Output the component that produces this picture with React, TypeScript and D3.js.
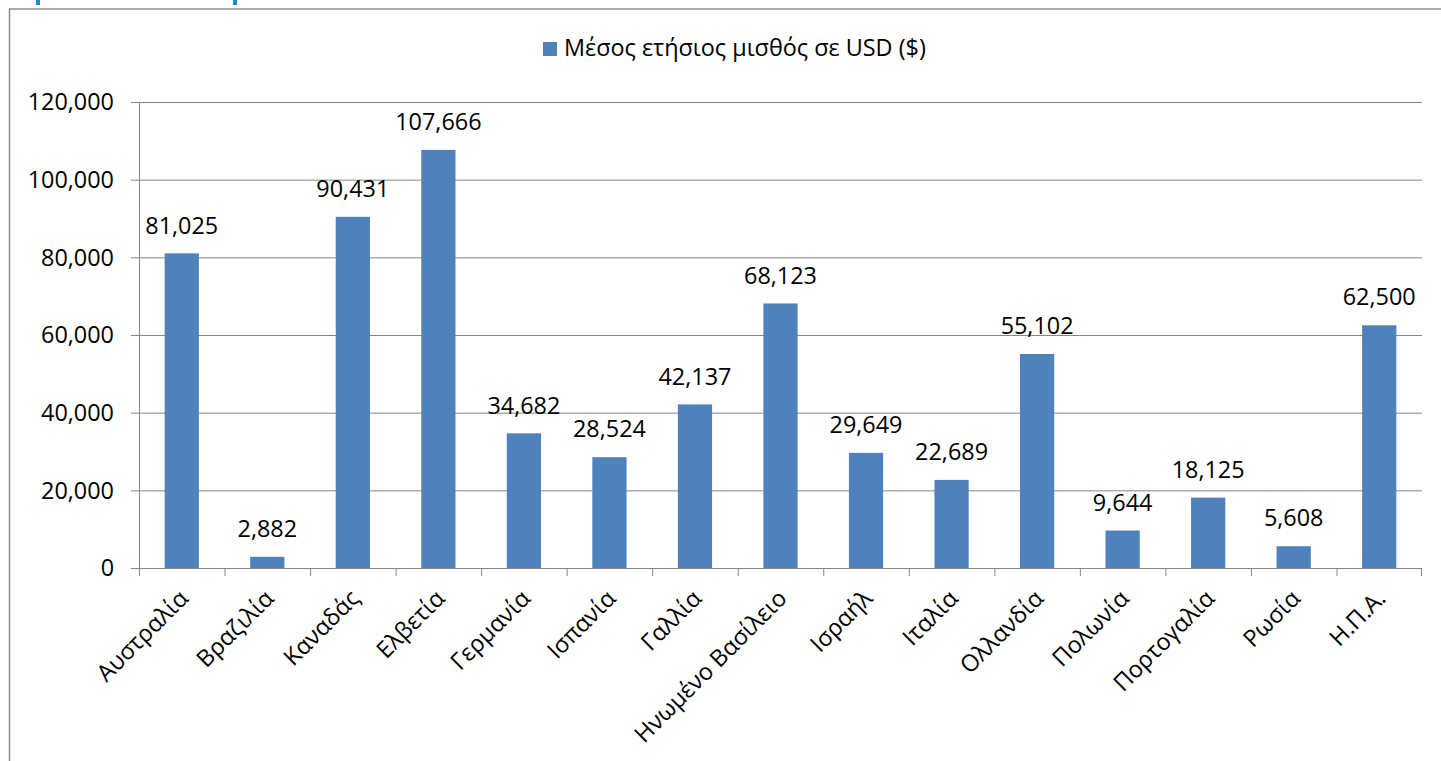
import React from "react";
import * as d3 from "d3";

const categories = [
  "Αυστραλία", "Βραζιλία", "Καναδάς", "Ελβετία", "Γερμανία", "Ισπανία", "Γαλλία",
  "Ηνωμένο Βασίλειο", "Ισραήλ", "Ιταλία", "Ολλανδία", "Πολωνία", "Πορτογαλία", "Ρωσία", "Η.Π.Α.",
];
const values = [81025, 2882, 90431, 107666, 34682, 28524, 42137, 68123, 29649, 22689, 55102, 9644, 18125, 5608, 62500];
const yTicks = [0, 20000, 40000, 60000, 80000, 100000, 120000];
const seriesName = "Μέσος ετήσιος μισθός σε USD ($)";

const W = 1441, H = 761;
const left = 139, right = 1422, top = 102, bottom = 568;
const FONT = "'Open Sans', 'Noto Sans', sans-serif";
const FS = 23.4;
const BAR = "#4F81BD";
const GRID = "#868686";

export default function App() {
  const x = d3.scaleBand<string>().domain(categories).range([left, right]).paddingInner(0.6).paddingOuter(0.3);
  const band = d3.scaleBand<string>().domain(categories).range([left, right]);
  const y = d3.scaleLinear().domain([0, 120000]).range([bottom, top]);
  const fmt = d3.format(",");
  return (
    <svg width={W} height={H} style={{ position: "absolute", left: 0, top: 0, background: "#fff" }} fontFamily={FONT}>
      <rect x={0} y={0} width={W} height={H} fill="#fff" />
      <rect x={36} y={0} width={4} height={5} fill="#1B8CC0" />
      <rect x={233} y={0} width={4} height={5} fill="#1B8CC0" />
      <line x1={9.5} y1={9} x2={9.5} y2={H} stroke="#8c8c8c" strokeWidth={1.5} />
      <line x1={9} y1={9} x2={W} y2={9} stroke="#8c8c8c" strokeWidth={1.5} />
      {/* legend */}
      <rect x={543} y={42} width={14} height={14} fill={BAR} />
      <text x={564} y={48} dy="0.35em" fontSize={FS} fill="#000">{seriesName}</text>
      {/* gridlines */}
      {yTicks.map((t) => (
        <g key={t}>
          {t > 0 && <line x1={left} x2={right} y1={y(t) + 0.5} y2={y(t) + 0.5} stroke={GRID} strokeWidth={1} />}
          <line x1={131} x2={left} y1={y(t) + 0.5} y2={y(t) + 0.5} stroke={GRID} strokeWidth={1} />
          <text x={114} y={y(t)} dy="0.35em" textAnchor="end" fontSize={FS} fill="#000">{fmt(t)}</text>
        </g>
      ))}
      {/* bars */}
      {categories.map((c, i) => (
        <rect key={c} x={x(c)!} y={y(values[i])} width={x.bandwidth()} height={bottom - y(values[i])} fill={BAR} />
      ))}
      {/* axes */}
      <line x1={left + 0.5} x2={left + 0.5} y1={top} y2={bottom} stroke={GRID} />
      <line x1={left} x2={right} y1={bottom + 0.5} y2={bottom + 0.5} stroke={GRID} />
      {categories.map((c) => (
        <line key={"t" + c} x1={band(c)! + 0.5} x2={band(c)! + 0.5} y1={bottom} y2={bottom + 8} stroke={GRID} />
      ))}
      <line x1={right - 0.5} x2={right - 0.5} y1={bottom} y2={bottom + 8} stroke={GRID} />
      {/* data labels */}
      {categories.map((c, i) => (
        <text key={"l" + c} x={x(c)! + x.bandwidth() / 2} y={y(values[i]) - 28} dy="0.35em" textAnchor="middle" fontSize={FS} fill="#000">
          {fmt(values[i])}
        </text>
      ))}
      {/* category labels */}
      {categories.map((c) => {
        const cx = band(c)! + band.bandwidth() / 2 + 2;
        const cy = bottom + 26;
        return (
          <text key={"c" + c} transform={`translate(${cx},${cy}) rotate(-45)`} textAnchor="end" dy="0.35em" fontSize={FS} fill="#000">
            {c}
          </text>
        );
      })}
    </svg>
  );
}
